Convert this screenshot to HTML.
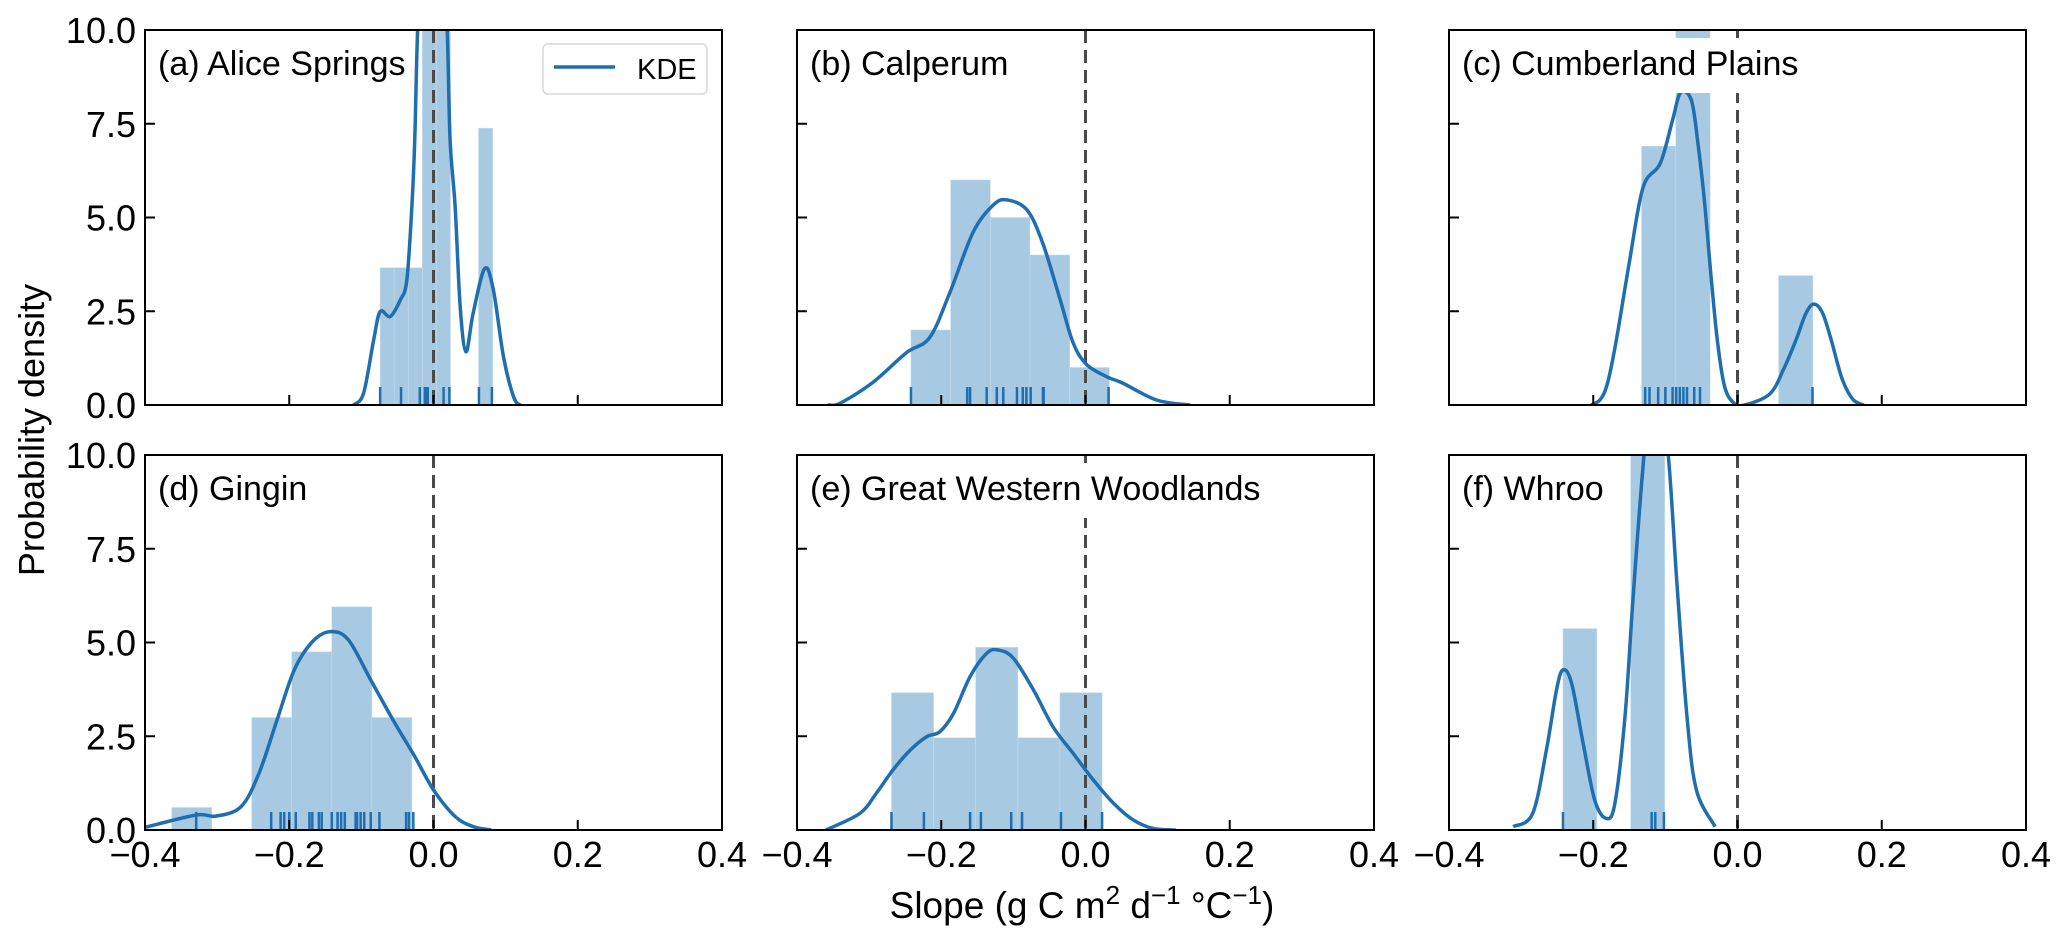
<!DOCTYPE html>
<html><head><meta charset="utf-8"><style>
html,body{margin:0;padding:0;background:#fff;}
svg{display:block;font-family:"Liberation Sans",Arial,sans-serif;}
</style></head><body>
<svg id="fig" width="2067" height="944" viewBox="0 0 2067 944" xmlns="http://www.w3.org/2000/svg"></svg>
<script>
// ---- data ----
const panelTitles = ["(a) Alice Springs","(b) Calperum","(c) Cumberland Plains","(d) Gingin","(e) Great Western Woodlands","(f) Whroo"];
const xTickValues = [-0.4,-0.2,0.0,0.2,0.4];
const xTickLabels = ["\u22120.4","\u22120.2","0.0","0.2","0.4"];
const yTickValues = [0,2.5,5,7.5,10];
const yTickLabels = ["0.0","2.5","5.0","7.5","10.0"];

const histStart = [-0.074,-0.242,-0.133,-0.363,-0.269,-0.242];
const histWidth = [0.0195,0.055,0.0475,0.0555,0.0584,0.047];
const histA = [3.66,3.66,3.66,12,12,0,0,7.38];
const histB = [2,6,5,4,1];
const histC = [6.9,10.4,0,0,3.45];
const histD = [0.6,0,3,4.75,5.95,3];
const histE = [3.66,2.46,4.87,2.46,3.66];
const histF = [5.37,0,12];

const kdeXA = [-0.111,-0.097,-0.083,-0.074,-0.06,-0.046,-0.037,-0.03,-0.026,-0.022,-0.015,0,0.012,0.019,0.023,0.03,0.037,0.045,0.055,0.071,0.083,0.097,0.111,0.12];
const kdeYA = [0,0.31,1.73,2.49,2.36,2.8,3.33,5.29,7.07,10,12.5,13.5,12.5,10,7.07,5.29,2.62,1.42,2.45,3.64,3.07,1.29,0.22,0];
const kdeXB = [-0.357,-0.34,-0.295,-0.248,-0.216,-0.188,-0.156,-0.128,-0.109,-0.081,-0.059,-0.035,-0.017,0.002,0.03,0.052,0.099,0.145];
const kdeYB = [0,0.05,0.6,1.4,1.8,3.0,4.6,5.33,5.47,5.2,4.3,2.8,1.65,1.07,0.75,0.58,0.13,0];
const kdeXC = [-0.203,-0.19,-0.18,-0.168,-0.15,-0.131,-0.107,-0.09,-0.079,-0.064,-0.055,-0.046,-0.037,-0.028,-0.018,-0.005,0.01,0.045,0.065,0.081,0.095,0.106,0.118,0.13,0.145,0.16,0.175];
const kdeYC = [0,0.15,0.6,1.73,3.8,5.8,6.45,7.6,8.33,8.13,7,5.47,3.5,1.73,0.5,0.05,0,0.3,1.0,1.73,2.45,2.69,2.45,1.73,0.7,0.15,0];
const kdeXD = [-0.4,-0.329,-0.302,-0.267,-0.242,-0.217,-0.193,-0.168,-0.143,-0.118,-0.087,-0.056,-0.026,0,0.03,0.055,0.08];
const kdeYD = [0.07,0.4,0.37,0.62,1.51,2.93,4.27,5.02,5.29,5.07,4.0,2.93,1.96,1.07,0.36,0.09,0];
const kdeXE = [-0.36,-0.313,-0.29,-0.267,-0.243,-0.22,-0.202,-0.183,-0.16,-0.137,-0.121,-0.1,-0.072,-0.045,-0.017,0.011,0.039,0.066,0.094,0.125];
const kdeYE = [0,0.44,0.98,1.6,2.13,2.49,2.62,3.11,4.09,4.71,4.8,4.58,3.73,2.75,2.04,1.33,0.71,0.27,0.04,0];
const kdeXF = [-0.311,-0.284,-0.265,-0.251,-0.242,-0.23,-0.214,-0.198,-0.182,-0.17,-0.156,-0.145,-0.131,-0.114,-0.096,-0.084,-0.07,-0.057,-0.031];
const kdeYF = [0.09,0.44,2.13,3.73,4.27,3.91,2.31,0.8,0.31,0.71,3.02,6.13,9.69,13,10,6.58,3.02,1.07,0.09];

const rugA = [-0.074,-0.045,-0.019,-0.012,-0.010,-0.008,0.014,0.022,0.063,0.081];
const rugB = [-0.242,-0.164,-0.160,-0.137,-0.123,-0.114,-0.095,-0.087,-0.082,-0.076,-0.059,-0.058,0.032];
const rugC = [-0.128,-0.122,-0.11,-0.1,-0.09,-0.085,-0.08,-0.075,-0.07,-0.06,-0.052,0.104];
const rugD = [-0.329,-0.225,-0.212,-0.207,-0.2,-0.191,-0.172,-0.168,-0.159,-0.155,-0.141,-0.133,-0.128,-0.123,-0.108,-0.106,-0.101,-0.096,-0.087,-0.075,-0.038,-0.034,-0.028];
const rugE = [-0.269,-0.224,-0.16,-0.145,-0.103,-0.088,-0.034,0.023];
const rugF = [-0.242,-0.119,-0.114,-0.102];

// ---- layout ----
const hists = [histA,histB,histC,histD,histE,histF];
const kdeXs = [kdeXA,kdeXB,kdeXC,kdeXD,kdeXE,kdeXF];
const kdeYs = [kdeYA,kdeYB,kdeYC,kdeYD,kdeYE,kdeYF];
const rugs = [rugA,rugB,rugC,rugD,rugE,rugF];
const colX = [145,797,1449], rowY = [30,455], PW = 577, PH = 375;
const XMIN=-0.4, XMAX=0.4, YMIN=0, YMAX=10;
const NS = "http://www.w3.org/2000/svg";
const svg = document.getElementById('fig');
const BLUE = "#1f6fb0", FILL = "#a7c9e2";

function mk(tag, attrs, parent){
  const e = document.createElementNS(NS, tag);
  for (const k in attrs) e.setAttribute(k, attrs[k]);
  (parent||svg).appendChild(e);
  return e;
}
function smoothPath(pts){
  let d = "M"+pts[0][0].toFixed(2)+","+pts[0][1].toFixed(2);
  for (let i=0;i<pts.length-1;i++){
    const p0=pts[Math.max(0,i-1)], p1=pts[i], p2=pts[i+1], p3=pts[Math.min(pts.length-1,i+2)];
    const t=6;
    const c1=[p1[0]+(p2[0]-p0[0])/t, p1[1]+(p2[1]-p0[1])/t];
    const c2=[p2[0]-(p3[0]-p1[0])/t, p2[1]-(p3[1]-p1[1])/t];
    d += " C"+c1[0].toFixed(2)+","+c1[1].toFixed(2)+" "+c2[0].toFixed(2)+","+c2[1].toFixed(2)+" "+p2[0].toFixed(2)+","+p2[1].toFixed(2);
  }
  return d;
}

const defs = mk('defs',{});
for (let p=0;p<6;p++){
  const col = p%3, row = Math.floor(p/3);
  const x0 = colX[col], y0 = rowY[row];
  const sx = v => x0 + (v-XMIN)/(XMAX-XMIN)*PW;
  const sy = v => y0 + PH - (v-YMIN)/(YMAX-YMIN)*PH;
  const cp = mk('clipPath',{id:'clip'+p},defs);
  mk('rect',{x:x0,y:y0,width:PW,height:PH},cp);

  const g = mk('g',{});
  
  
  const plot = mk('g',{'clip-path':'url(#clip'+p+')'},g);
  
  

  // histogram
  hists[p].forEach((h,i)=>{
    if (h<=0) return;
    const a = histStart[p]+i*histWidth[p], b = a+histWidth[p];
    const r = mk('rect',{x:sx(a),y:sy(h),width:sx(b)-sx(a),height:sy(0)-sy(h),fill:FILL,stroke:'#c4dbec','stroke-width':0.6},plot);
    
    
  });
  // dashed zero line
  const zl = mk('line',{x1:sx(0),x2:sx(0),y1:y0,y2:y0+PH,stroke:'#4a4a4a','stroke-width':3,'stroke-dasharray':'13,7'},plot);
  
  
  // rug
  rugs[p].forEach(v=>{
    const l = mk('line',{x1:sx(v),x2:sx(v),y1:sy(0),y2:sy(0)-18,stroke:BLUE,'stroke-width':2.5},plot);
    
    
  });
  // kde
  const pts = kdeXs[p].map((x,i)=>[sx(x), sy(kdeYs[p][i])]);
  const kp = mk('path',{d:smoothPath(pts),fill:'none',stroke:BLUE,'stroke-width':3.5,'stroke-linejoin':'round'},plot);
  
  

  // title with white box
  const tg = mk('g',{},g);
  
  
  const tbg = mk('rect',{fill:'#fff'},tg);
  const tt = mk('text',{x:x0+13,y:y0+45,'font-size':34,fill:'#000'},tg);
  tt.textContent = panelTitles[p];
  const bb = tt.getBBox();
  tbg.setAttribute('x', bb.x-4); tbg.setAttribute('y', y0+8);
  tbg.setAttribute('width', bb.width+8); tbg.setAttribute('height', 55);

  // frame
  const fr = mk('rect',{x:x0,y:y0,width:PW,height:PH,fill:'none',stroke:'#000','stroke-width':2},g);
  
  
  // x ticks
  xTickValues.forEach((v,i)=>{
    const t = mk('line',{x1:sx(v),x2:sx(v),y1:y0+PH,y2:y0+PH-10,stroke:'#000','stroke-width':2},g);
    
    
    if (row===1){
      const tl = mk('text',{x:sx(v),y:867,'font-size':36,'text-anchor':'middle'},g);
      
      
      tl.textContent = xTickLabels[i];
    }
  });
  // y ticks
  yTickValues.forEach((v,i)=>{
    const t = mk('line',{x1:x0,x2:x0+10,y1:sy(v),y2:sy(v),stroke:'#000','stroke-width':2},g);
    
    
    if (col===0){
      const tl = mk('text',{x:x0-9,y:sy(v)+13,'font-size':36,'text-anchor':'end'},g);
      
      
      tl.textContent = yTickLabels[i];
    }
  });
}

// legend
const lg = mk('g',{});


mk('rect',{x:543,y:44,width:164,height:50,rx:5,fill:'#fff',stroke:'#d8d8d8','stroke-width':1.5},lg);
mk('line',{x1:554,x2:615,y1:67,y2:67,stroke:BLUE,'stroke-width':3.5},lg);
const lt = mk('text',{x:637,y:79,'font-size':29},lg);
lt.textContent = 'KDE';

// axis labels
const yl = mk('text',{x:0,y:0,'font-size':36,'text-anchor':'middle',transform:'translate(44,430) rotate(-90)'});


yl.textContent = 'Probability density';

const xl = mk('text',{x:1082,y:918,'font-size':37,'text-anchor':'middle'});


xl.innerHTML = 'Slope (g C m<tspan font-size="26" dy="-14">2</tspan><tspan dy="14"> d</tspan><tspan font-size="26" dy="-14">\u22121</tspan><tspan dy="14"> \u00b0C</tspan><tspan font-size="26" dy="-14">\u22121</tspan><tspan dy="14">)</tspan>';
</script>
</body></html>
